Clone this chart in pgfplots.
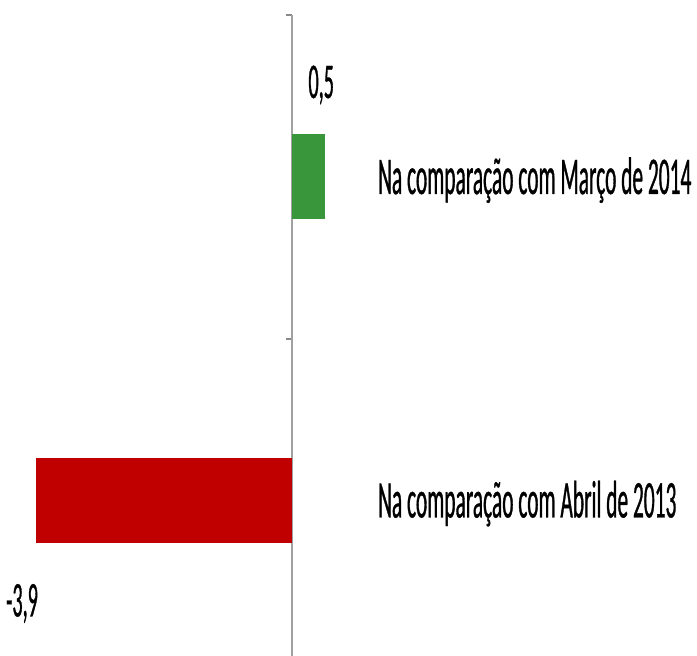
\documentclass[border=0pt]{standalone}
\usepackage{fontspec}
\setmainfont{Carlito}
\newfontfamily\condfont[FakeStretch=0.404, FakeBold=0.6]{Carlito}
\usepackage{pgfplots}
\pgfplotsset{compat=1.18}
\definecolor{barGreen}{RGB}{58,150,58}
\definecolor{barRed}{RGB}{192,0,0}
\definecolor{axisGray}{RGB}{160,160,160}
\begin{document}
\begin{tikzpicture}
\begin{axis}[
  at={(0,0)}, anchor=south west,
  scale only axis, width=370.64pt, height=640.5pt,
  xmin=-4.45, xmax=1.2, ymin=-0.48, ymax=1.5,
  axis x line=none,
  axis y line=center,
  axis line style={-, draw=axisGray, line width=1.2pt},
  xbar, bar width=85pt, bar shift=0pt,
  ytick={0.5,1.5}, yticklabels={},
  major tick length=6pt,
  ytick style={draw=axisGray!85!black, line width=1.6pt},
  tick align=outside,
  extra y ticks={0,1},
  extra y tick labels={Na comparação com Abril de 2013, Na comparação com Março de 2014},
  extra y tick style={major tick length=0pt, yticklabel style={anchor=base west, inner sep=0pt, xshift=86pt, yshift=-17pt, font={\condfont\fontsize{53}{60}\selectfont}}},
  /pgf/number format/assume math mode=true,
  point meta=x,
  clip=false,
]
\addplot[fill=barGreen, draw=none,
  nodes near coords={\pgfmathprintnumber[use comma, fixed, fixed zerofill, precision=1]{\pgfplotspointmeta}},
  nodes near coords style={anchor=base, inner sep=0pt, yshift=79pt, xshift=-3.5pt, font={\condfont\fontsize{50}{60}\selectfont}}]
  coordinates {(0.5,1)};
\addplot[fill=barRed, draw=none,
  nodes near coords={\pgfmathprintnumber[use comma, fixed, fixed zerofill, precision=1]{\pgfplotspointmeta}},
  nodes near coords style={anchor=base, inner sep=0pt, yshift=-116pt, xshift=-14pt, font={\condfont\fontsize{50}{60}\selectfont}}]
  coordinates {(-3.9,0)};
\end{axis}
\pgfresetboundingbox
\path[use as bounding box] (0,0) rectangle (697pt,655.75pt);
\end{tikzpicture}
\end{document}
